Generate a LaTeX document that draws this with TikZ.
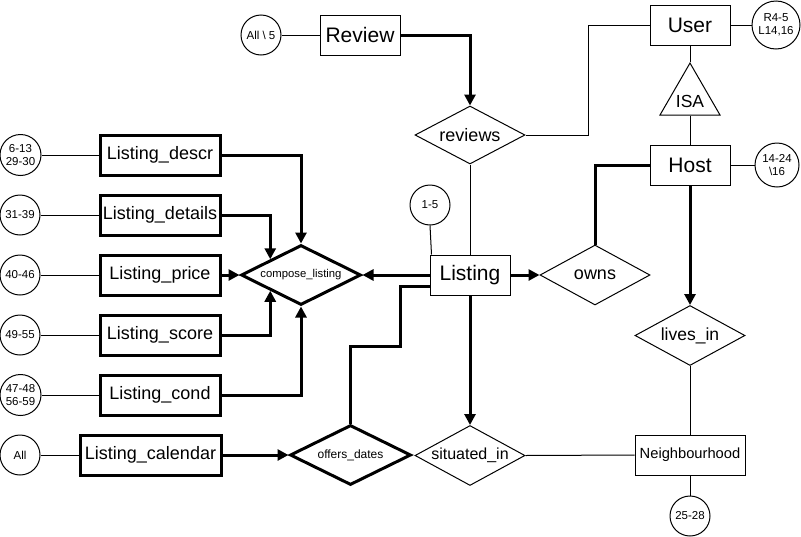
\documentclass[tikz,border=0pt]{standalone}
\usepackage{fontspec}
\setmainfont{Liberation Sans}
\usetikzlibrary{arrows.meta,shapes.geometric,calc}
\newcommand\fsz[2]{\fontsize{#1}{#2}\selectfont}
\tikzset{
  thinline/.style={draw, line width=1pt},
  thickline/.style={draw, line width=3pt},
  arr/.style={thickline, -{Triangle[length=11pt,width=11pt]}},
  ent/.style={draw, line width=1pt, minimum width=80pt, minimum height=40pt, inner sep=0pt, font=\fsz{21}{24}},
  wkent/.style={draw, line width=3pt, minimum width=120pt, minimum height=40pt, inner sep=0pt, font=\fsz{18}{21}},
  rel/.style={draw, line width=1pt, diamond, minimum width=110pt, minimum height=60pt, inner sep=0pt},
  wkrel/.style={draw, line width=3pt, diamond, minimum width=120pt, minimum height=60pt, inner sep=0pt},
  attr/.style={draw, line width=1pt, circle, minimum size=40pt, inner sep=0pt, align=center, font=\fsz{11.5}{13}},
}
\begin{document}
\begin{tikzpicture}[x=1pt,y=-1pt]
\useasboundingbox (0,0) rectangle (801,536);

% entities
\node[ent] (rev) at (360,35) {Review};
\node[ent] (user) at (690,25) {User};
\node[ent] (host) at (690,165) {Host};
\node[ent] (lst) at (470,275) {Listing};
\node[ent, minimum width=110pt, font=\fsz{14.7}{17}] (nb) at (690,455) {Neighbourhood};

\node[wkent] (ld) at (160,155) {Listing\_descr};
\node[wkent] (ldt) at (160,215) {Listing\_details};
\node[wkent] (lp) at (160,275) {Listing\_price};
\node[wkent] (ls) at (160,335) {Listing\_score};
\node[wkent] (lc) at (160,395) {Listing\_cond};
\node[wkent, minimum width=141pt] (lcal) at (150.5,455) {Listing\_calendar};

% ISA
\node[draw, line width=1pt, regular polygon, regular polygon sides=3, minimum size=69.3pt, inner sep=0pt] (isa) at (690,97.7) {};
\node[font=\fsz{17.5}{20}] (isat) at (690,101) {ISA};

% relationships
\node[rel, minimum height=58pt, label={[font=\fsz{18}{21}]center:reviews}] (rv) at (470,135) {};
\node[rel, label={[font=\fsz{18}{21}]center:owns}] (ow) at (595,275) {};
\node[rel, label={[font=\fsz{17.5}{20}]center:lives\_in}] (li) at (690,335.5) {};
\node[rel, label={[font=\fsz{16}{19}]center:situated\_in}] (si) at (470,455.5) {};
\node[wkrel, label={[font=\fsz{11.3}{13}]center:compose\_listing}] (cl) at (301,275) {};
\node[wkrel, minimum width=121pt, label={[font=\fsz{12}{14}]center:offers\_dates}] (od) at (350.5,455) {};

% attributes
\node[attr] (crev) at (261,35) {All \textbackslash{} 5};
\node[attr, minimum size=48pt] (cuser) at (776,25) {R4-5\\L14,16};
\node[attr, minimum size=44pt] (chost) at (777,165) {14-24\\\textbackslash 16};
\node[attr] (c15) at (430,205) {1-5};
\node[attr] (cnb) at (690,516) {25-28};
\node[attr, minimum size=41pt] (cld) at (20.5,155) {6-13\\29-30};
\node[attr] (cldt) at (20,215) {31-39};
\node[attr] (clp) at (20,275) {40-46};
\node[attr] (cls) at (20,335) {49-55};
\node[attr, minimum size=41pt] (clc) at (20.5,395) {47-48\\56-59};
\node[attr] (ccal) at (20,455) {All};

% attribute lines
\draw[thinline] (crev) -- (rev);
\draw[thinline] (cuser) -- (user);
\draw[thinline] (chost) -- (host);
\draw[thinline] (c15.south) -- ([xshift=2pt]lst.north west);
\draw[thinline] (cnb) -- (nb);
\draw[thinline] (cld) -- (ld);
\draw[thinline] (cldt) -- (ldt);
\draw[thinline] (clp) -- (lp);
\draw[thinline] (cls) -- (ls);
\draw[thinline] (clc) -- (lc);
\draw[thinline] (ccal) -- (lcal);

% ISA lines
\draw[thinline] (user.south) -- (isa.corner 1);
\draw[thinline] (isa.side 2) -- (host.north);

% relationship lines
\coordinate (ubend) at (588,25);
\draw[thinline] (user.west) -- (ubend) |- (rv.east);
\draw[arr] (rev.east) -| (rv.north);
\draw[thinline] (lst.north) -- (rv.south);
\draw[arr] (lst.east) -- (ow.west);
\draw[thickline] (host.west) -| (ow.north);
\draw[arr] (host.south) -- (li.north);
\draw[thinline] (li.south) -- (nb.north);
\draw[thinline] (si.east) -- (nb.west);
\draw[arr] (lst.south) -- (si.north);

% compose_listing
\draw[arr] (lst.west) -- (cl.east);
\draw[arr] (ld.east) -| (cl.north);
\draw[arr] (ldt.east) -| ($(cl.north)!0.5!(cl.west)$);
\draw[arr] (lp.east) -- (cl.west);
\draw[arr] (ls.east) -| ($(cl.south)!0.5!(cl.west)$);
\draw[arr] (lc.east) -| (cl.south);

% offers_dates
\draw[arr] (lcal.east) -- (od.west);
\coordinate (odb) at (400,346);
\draw[thickline] (od.north) |- (odb) |- ([yshift=-11pt]lst.west);
\end{tikzpicture}
\end{document}
